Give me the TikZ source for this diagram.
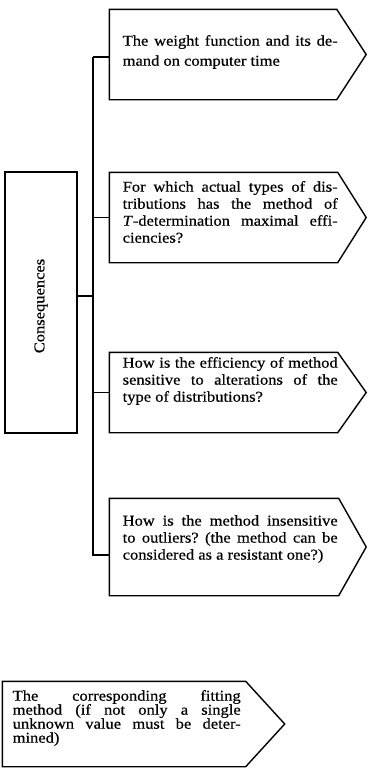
\documentclass[tikz,border=0pt]{standalone}
\usepackage{fontspec}
\setmainfont{Liberation Serif}[FakeStretch=1.1,FakeBold=0.5]
\frenchspacing
\begin{document}
\begin{tikzpicture}[x=1pt,y=-1pt,line width=1.4pt,
  txt/.style={inner sep=0pt,align=justify,text width=215pt,anchor=west,font=\fontsize{15}{17}\selectfont},
  boxpart/.style={inner sep=0pt,rectangle}]
\useasboundingbox (0,0) rectangle (367,771);
% box frames (rectangular parts)
\node[boxpart,minimum width=226pt,minimum height=89pt] (b1) at (223,54.5) {};
\node[boxpart,minimum width=227pt,minimum height=89pt] (b2) at (223.5,217.5) {};
\node[boxpart,minimum width=227pt,minimum height=79pt] (b3) at (223.5,392.5) {};
\node[boxpart,minimum width=228pt,minimum height=96pt] (b4) at (224,547) {};
\node[boxpart,minimum width=242pt,minimum height=84pt] (b5) at (124,724) {};
\node[draw,boxpart,minimum width=72pt,minimum height=261pt] (cons) at (41,302.5) {};
\foreach \b/\t in {b1/29.5,b2/28.5,b3/28.5,b4/27.5,b5/39}
  \draw (\b.north west) -- (\b.north east) -- ([xshift=\t pt]\b.east) -- (\b.south east) -- (\b.south west) -- cycle;
% texts
\node[txt,font=\fontsize{15}{20}\selectfont] (t1) at (122,52) {The weight function and its de-\linebreak mand on computer time};
\node[txt] (t2) at (122,212) {For which actual types of dis-\linebreak tributions has the method of\linebreak \textit{T}-determination maximal effi-\linebreak ciencies?};
\node[txt] (t3) at (122,381) {How is the efficiency of method\linebreak sensitive to alterations of the\linebreak type of distributions?};
\node[txt] (t4) at (122,539) {How is the method insensitive\linebreak to outliers? (the method can be\linebreak considered as a resistant one?)};
\node[txt,text width=228pt,font=\fontsize{15}{14}\selectfont] (t5) at (12,718) {The corresponding fitting\linebreak method (if not only a single\linebreak unknown value must be deter-\linebreak mined)};
\node[rotate=90,inner sep=0pt,font=\fontsize{15}{17}\selectfont] (tc) at (41,306) {Consequences};
% connectors
\coordinate (s1) at (93,57);
\coordinate (p1) at (110,57);
\coordinate (p4) at (110,555);
\draw (s1) -- (s1 |- p4) -- (p4);
\draw (s1) -- (p1);
\draw (b2.west -| s1) -- (b2.west);
\draw (b3.west -| s1) -- (b3.west);
\draw ([yshift=6.5pt]cons.east) -- ([yshift=6.5pt]cons.east -| s1);
\end{tikzpicture}
\end{document}
